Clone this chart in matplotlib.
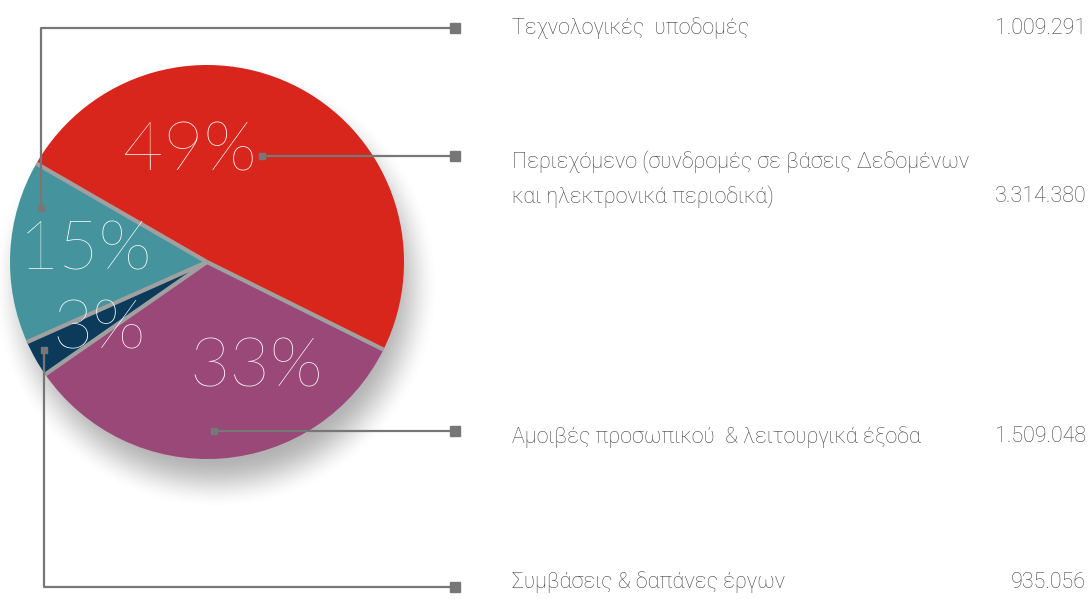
import numpy as np
import matplotlib
matplotlib.use("Agg")
import matplotlib.pyplot as plt

# ---- data ----
categories = [
    "Τεχνολογικές  υποδομές",
    "Περιεχόμενο (συνδρομές σε βάσεις Δεδομένων\nκαι ηλεκτρονικά περιοδικά)",
    "Αμοιβές προσωπικού  & λειτουργικά έξοδα",
    "Συμβάσεις & δαπάνες έργων",
]
amounts = ["1.009.291", "3.314.380", "1.509.048", "935.056"]
percents = [15, 49, 33, 3]
colors = ["#45949d", "#d8261d", "#994877", "#0b3a5a"]

# pie drawing order (clockwise from upper-left): red, purple, navy, teal
order = [1, 2, 3, 0]

W, H = 1092, 599
fig = plt.figure(figsize=(W / 100, H / 100), dpi=100)
ax = fig.add_axes([0, 0, 1, 1])

def Y(y):
    return H - y

cx, cy, R = 207, Y(262), 197

# soft shadow
xs = np.arange(0, 470)
ys = np.arange(0, H)
XX, YY = np.meshgrid(xs, ys)
d = np.hypot(XX - (cx + 8), YY - (cy - 24))
blur = 26.0
a = np.clip((R + blur - d) / (2 * blur), 0, 1)
a = a * a * (3 - 2 * a) * 0.5
img = np.zeros((len(ys), len(xs), 4))
img[..., :3] = 0.4
img[..., 3] = a
ax.imshow(img, extent=(0, 470, 0, H), origin="lower", zorder=0, interpolation="bilinear")

vals = [percents[i] for i in order]
cols = [colors[i] for i in order]
explode = [0.015, 0, 0, 0]
wedges, _ = ax.pie(vals, colors=cols, startangle=150, counterclock=False,
                   center=(cx, cy), radius=R, explode=explode,
                   wedgeprops=dict(linewidth=0))
for w in wedges:
    w.set_zorder(2)

# gray separators along wedge boundaries
for w in wedges:
    th = np.deg2rad(w.theta1)
    c = w.center
    ax.plot([c[0], c[0] + w.r * np.cos(th)], [c[1], c[1] + w.r * np.sin(th)],
            color="#a0a0a0", lw=3.0, solid_capstyle="butt", zorder=3)

# percentage labels
pct_pos = {1: (190, 152), 0: (86, 251), 3: (99, 330), 2: (256, 368)}
for i, (px, py) in pct_pos.items():
    ax.text(px, Y(py), f"{percents[i]}%", color="white", fontsize=50,
            family="Lato", fontweight=100, ha="center", va="center", zorder=4)

# leader lines
lc = "#777777"
dots = {0: (41, 208), 1: (262, 156), 2: (214, 431), 3: (44, 350)}
line_y = {0: 28, 1: 156, 2: 431, 3: 587}
xend = 455
for i in range(4):
    dx, dy = dots[i]
    ly = line_y[i]
    if dy == ly:
        ax.plot([dx, xend], [Y(ly), Y(ly)], color=lc, lw=1.6, zorder=5)
    else:
        ax.plot([dx, dx, xend], [Y(dy), Y(ly), Y(ly)], color=lc, lw=1.6, zorder=5)
    ax.plot([dx], [Y(dy)], marker="s", ms=4, color=lc, mec=lc, zorder=6)
    ax.plot([xend], [Y(ly)], marker="s", ms=7.5, color=lc, mec=lc, zorder=6)

# labels and amounts
label_y = {0: 28, 1: 162, 2: 437, 3: 582}
tc = "#444444"
fs = 15.5
fam = "Roboto"
for i, lab in enumerate(categories):
    lines = lab.split("\n")
    y0 = label_y[i]
    for k, ln in enumerate(lines):
        ax.text(512, Y(y0 + 35 * k), ln, color=tc, fontsize=fs, family=fam,
                fontweight="light", ha="left", va="center")
    ax.text(1086, Y(y0 + 35 * (len(lines) - 1)), amounts[i], color=tc, fontsize=fs,
            family=fam, fontweight="light", ha="right", va="center")

ax.set_xlim(0, W)
ax.set_ylim(0, H)
ax.set_aspect("auto")
ax.set_axis_off()
fig.savefig("out.png", dpi=100, facecolor="white")
